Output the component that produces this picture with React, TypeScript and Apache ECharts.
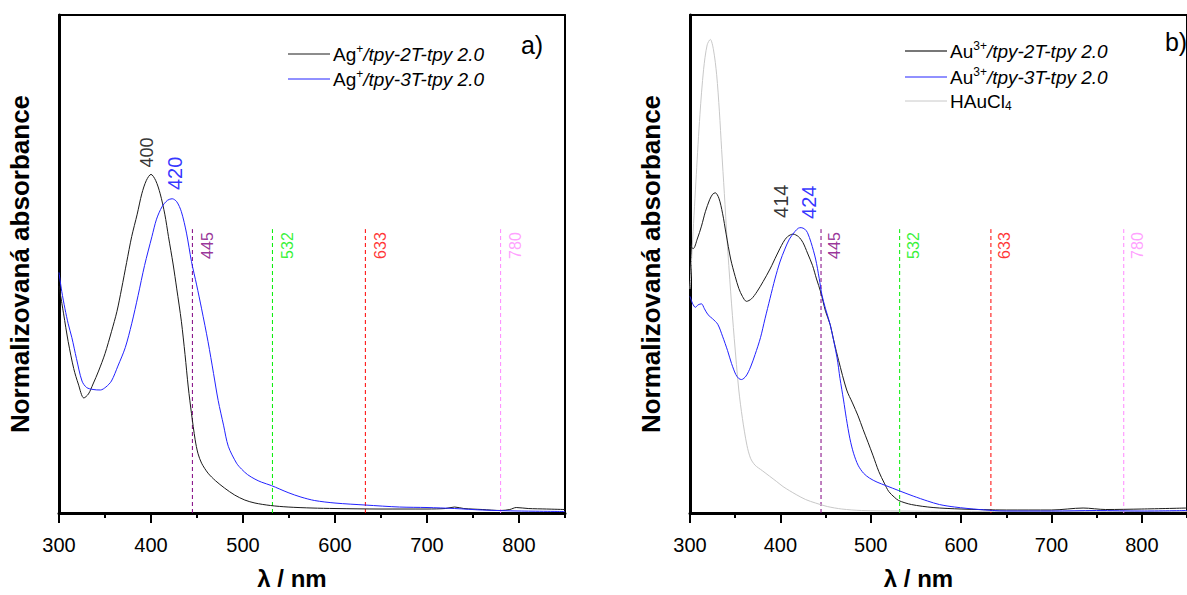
import React, { useEffect, useRef } from "react";
import * as echarts from "echarts";

const FONT = '"Liberation Sans", Arial, Helvetica, sans-serif';

// laser wavelengths marked by dashed lines
const laserNm = [445, 532, 633, 780];
const laserColors = ["#800080", "#00ee00", "#ff0000", "#ff88ff"];
const laserTop = 0.57;

// panel a) Ag+ complexes [nm, normalized absorbance]
const agTpy2T = [
  [300, 0.456], [305, 0.4], [310, 0.344], [316, 0.29], [321, 0.259], [327, 0.231], [332, 0.239],
  [337, 0.259], [343, 0.285], [350, 0.32], [357, 0.364], [363, 0.405], [368, 0.45], [373.5, 0.503],
  [379, 0.555], [385, 0.6], [390, 0.641], [395, 0.668], [400, 0.68], [405, 0.668], [410, 0.641],
  [415, 0.6], [419, 0.555], [424, 0.5], [428, 0.45], [433, 0.385], [437, 0.318], [440.5, 0.253],
  [444, 0.2], [448, 0.147], [451, 0.12], [455, 0.1], [462, 0.08], [470, 0.065], [480, 0.05],
  [491, 0.036], [502, 0.026], [513, 0.02], [530, 0.015], [549, 0.012], [575, 0.01], [600, 0.009],
  [650, 0.008], [700, 0.008], [720, 0.009], [730, 0.012], [740, 0.009], [760, 0.007], [780, 0.005],
  [790, 0.007], [797, 0.011], [810, 0.009], [830, 0.008], [850, 0.007],
];
const agTpy3T = [
  [300, 0.483], [303, 0.445], [306.5, 0.41], [310, 0.38], [314, 0.352], [319, 0.31], [325, 0.265],
  [330, 0.252], [337, 0.248], [345, 0.247], [351, 0.253], [357, 0.265], [364, 0.295], [372, 0.332],
  [379, 0.38], [386, 0.437], [393, 0.497], [401, 0.555], [406, 0.59], [412, 0.615], [418, 0.628],
  [423, 0.631], [428, 0.625], [433, 0.605], [438.6, 0.562], [444, 0.505], [449.6, 0.458], [455, 0.41],
  [462, 0.344], [468, 0.28], [473, 0.226], [479, 0.175], [484, 0.134], [493, 0.1], [498.5, 0.088],
  [505, 0.077], [513, 0.068], [520, 0.062], [531, 0.055], [549, 0.041], [563, 0.032], [578, 0.025],
  [600, 0.02], [633, 0.016], [670, 0.012], [700, 0.011], [730, 0.009], [760, 0.006], [800, 0.004],
  [850, 0.003],
];

// panel b) Au3+ complexes and HAuCl4
const auTpy2T = [
  [300, 0.536], [303.6, 0.531], [308, 0.55], [312.7, 0.576], [317, 0.605], [321.7, 0.629], [325, 0.64],
  [328, 0.643], [332, 0.632], [336, 0.602], [340, 0.56], [345, 0.51], [350, 0.475], [354, 0.451],
  [358, 0.435], [362.5, 0.425], [368, 0.43], [374, 0.444], [381, 0.465], [388.6, 0.49], [396, 0.518],
  [403, 0.543], [408, 0.555], [414, 0.56], [420, 0.555], [425, 0.543], [430, 0.522], [435.6, 0.497],
  [440, 0.47], [444.6, 0.444], [450, 0.405], [455, 0.379], [459.5, 0.343], [464.5, 0.306],
  [473.4, 0.247], [479.8, 0.221], [486, 0.195], [491.5, 0.168], [497, 0.142], [502.4, 0.116],
  [509, 0.083], [515, 0.06], [520, 0.043], [526, 0.032], [531, 0.025], [545, 0.017], [569, 0.011],
  [600, 0.008], [650, 0.006], [700, 0.006], [735, 0.01], [760, 0.007], [800, 0.008], [850, 0.01],
];
const auTpy3T = [
  [300, 0.435], [303, 0.42], [306, 0.413], [309, 0.418], [312.7, 0.42], [316, 0.41], [320, 0.398],
  [325, 0.39], [330.7, 0.379], [336, 0.355], [341.6, 0.326], [346, 0.3], [350.7, 0.278], [354, 0.27],
  [357, 0.268], [362, 0.275], [367, 0.293], [372, 0.318], [378, 0.352], [383, 0.39], [388.6, 0.431],
  [394, 0.47], [399.5, 0.504], [405, 0.53], [410, 0.55], [416, 0.565], [420, 0.572], [423, 0.573],
  [427, 0.57], [430, 0.563], [434, 0.543], [439, 0.51], [443, 0.471], [446, 0.438], [450, 0.41],
  [455, 0.379], [462.6, 0.313], [466, 0.27], [469.9, 0.227], [473, 0.19], [477, 0.149], [481, 0.12],
  [486, 0.096], [492, 0.08], [498.7, 0.07], [507, 0.062], [516.8, 0.055], [531, 0.045], [547, 0.034],
  [563, 0.024], [576, 0.017], [593, 0.012], [620, 0.007], [650, 0.004], [700, 0.004], [750, 0.005],
  [800, 0.004], [850, 0.005],
];
const hAuCl4 = [
  [300, 0.45], [303, 0.55], [307, 0.68], [311, 0.8], [315, 0.89], [319, 0.94], [322.5, 0.951],
  [326, 0.93], [329.5, 0.88], [332.5, 0.807], [335, 0.73], [338, 0.642], [341, 0.55], [345, 0.444],
  [349, 0.35], [354, 0.247], [358, 0.19], [363, 0.136], [367, 0.11], [372, 0.096], [380, 0.085],
  [388, 0.074], [396, 0.063], [403, 0.053], [410, 0.045], [417.5, 0.037], [428, 0.027], [439, 0.02],
  [452, 0.013], [468, 0.008], [490, 0.005], [532, 0.004], [600, 0.003], [700, 0.003], [850, 0.003],
];

// peak annotations: text and anchor in data coordinates
const peakTextsA = ["400", "420"];
const peakColorsA = ["#000000", "#0000ff"];
const peakSizesA = [18, 20];
const peakAnchorsA = [[395.6, 0.724], [426.6, 0.682]];
const peakTextsB = ["414", "424"];
const peakColorsB = ["#000000", "#0000ff"];
const peakSizesB = [20, 20];
const peakAnchorsB = [[400.3, 0.626], [431.7, 0.624]];

const laserLabelY = 0.537;

export default function App() {
  const ref = useRef<HTMLDivElement>(null);

  useEffect(() => {
    if (!ref.current) return;
    const chart = echarts.init(ref.current, undefined, { renderer: "svg" });

    const grids = [
      { left: 59, top: 15, width: 506, height: 507 },
      { left: 690, top: 15, width: 507, height: 507 },
    ];

    const xAxes: any[] = [];
    const yAxes: any[] = [];
    grids.forEach((_, g) => {
      xAxes.push({
        gridIndex: g, type: "value", min: 300, max: 850, interval: 100, position: "bottom",
        axisLine: { onZero: false, lineStyle: { color: "#000", width: 3 } },
        axisTick: { length: 10, lineStyle: { color: "#000", width: 2 } },
        axisLabel: { fontSize: 20, color: "#000", margin: 22, fontFamily: FONT, showMaxLabel: false },
        splitLine: { show: false },
        name: "λ / nm", nameLocation: "middle", nameGap: 53,
        nameTextStyle: { fontSize: 24, fontWeight: "bold", color: "#000", fontFamily: FONT, padding: [0, 40, 0, 0] },
      });
      xAxes.push({
        gridIndex: g, type: "value", min: 300, max: 850, interval: 50, position: "bottom",
        axisLine: { show: false, onZero: false },
        axisTick: { length: 5, lineStyle: { color: "#000", width: 2 } },
        axisLabel: { show: false }, splitLine: { show: false },
      });
      xAxes.push({
        gridIndex: g, type: "value", min: 300, max: 850, position: "top",
        axisLine: { onZero: false, lineStyle: { color: "#000", width: 2 } },
        axisTick: { show: false }, axisLabel: { show: false }, splitLine: { show: false },
      });
      yAxes.push({
        gridIndex: g, type: "value", min: 0, max: 1, position: "left",
        axisLine: { onZero: false, lineStyle: { color: "#000", width: 3 } },
        axisTick: { show: false }, axisLabel: { show: false }, splitLine: { show: false },
        name: "Normalizovaná absorbance", nameLocation: "middle", nameGap: 26,
        nameTextStyle: { fontSize: 26, fontWeight: "bold", color: "#000", fontFamily: FONT },
      });
      yAxes.push({
        gridIndex: g, type: "value", min: 0, max: 1, position: "right",
        axisLine: { onZero: false, lineStyle: { color: "#000", width: 2 } },
        axisTick: { show: false }, axisLabel: { show: false }, splitLine: { show: false },
      });
    });

    const series: any[] = [];
    const curve = (name: string, data: number[][], g: number, color: string, z = 3) => ({
      type: "line", name, data, xAxisIndex: g * 3, yAxisIndex: g * 2, symbol: "none",
      smooth: 0.3, silent: true, z,
      lineStyle: { color, width: 1 },
    });

    grids.forEach((_, g) => {
      laserNm.forEach((nm, i) => {
        series.push({
          type: "line", data: [[nm, 0], [nm, laserTop]], xAxisIndex: g * 3, yAxisIndex: g * 2,
          symbol: "none", silent: true, z: 2,
          lineStyle: { color: laserColors[i], width: 1, type: [4, 3] },
        });
      });
      series.push({
        type: "scatter", xAxisIndex: g * 3, yAxisIndex: g * 2, symbolSize: 1, silent: true, z: 5,
        itemStyle: { color: "rgba(0,0,0,0)" },
        data: laserNm.map((nm, i) => ({
          value: [nm + (g === 0 ? 16 : 15), laserLabelY],
          label: {
            show: true, position: "inside", rotate: 90, formatter: String(nm),
            color: laserColors[i], fontSize: 16, fontFamily: FONT,
          },
        })),
      });
    });

    series.push(curve("Ag+/tpy-2T-tpy 2.0", agTpy2T, 0, "#1a1a1a"));
    series.push(curve("Ag+/tpy-3T-tpy 2.0", agTpy3T, 0, "#2222ff"));
    series.push(curve("HAuCl4", hAuCl4, 1, "#c8c8c8"));
    series.push(curve("Au3+/tpy-2T-tpy 2.0", auTpy2T, 1, "#1a1a1a", 4));
    series.push(curve("Au3+/tpy-3T-tpy 2.0", auTpy3T, 1, "#2222ff", 4));

    const peakSeries = (texts: string[], colors: string[], sizes: number[], anchors: number[][], g: number) => ({
      type: "scatter", xAxisIndex: g * 3, yAxisIndex: g * 2, symbolSize: 1, silent: true, z: 5,
      itemStyle: { color: "rgba(0,0,0,0)" },
      data: texts.map((t, i) => ({
        value: anchors[i],
        label: {
          show: true, position: "inside", rotate: 90, formatter: t,
          color: colors[i], fontSize: sizes[i], fontFamily: FONT,
        },
      })),
    });
    series.push(peakSeries(peakTextsA, peakColorsA, peakSizesA, peakAnchorsA, 0));
    series.push(peakSeries(peakTextsB, peakColorsB, peakSizesB, peakAnchorsB, 1));

    const rich = {
      n: { fontSize: 19, fontFamily: FONT, color: "#000", lineHeight: 22 },
      s: { fontSize: 12, fontFamily: FONT, color: "#000", verticalAlign: "top", lineHeight: 22 },
      b: { fontSize: 12, fontFamily: FONT, color: "#000", verticalAlign: "bottom", lineHeight: 16 },
      i: { fontSize: 19, fontFamily: FONT, color: "#000", fontStyle: "italic", lineHeight: 22 },
    };
    const legendItem = (x: number, y: number, color: string, width: number, text: string) => [
      { type: "line", shape: { x1: x, y1: y, x2: x + 42, y2: y }, style: { stroke: color, lineWidth: width }, silent: true },
      { type: "text", x: x + 45, y, silent: true, style: { text, rich, fill: "#000", verticalAlign: "middle", align: "left", fontSize: 19, fontFamily: FONT } },
    ];

    const graphic: any[] = [
      ...legendItem(288, 54, "#1a1a1a", 1, "{n|Ag}{s|+}{i|/tpy-2T-tpy 2.0}"),
      ...legendItem(288, 79, "#2222ff", 1, "{n|Ag}{s|+}{i|/tpy-3T-tpy 2.0}"),
      ...legendItem(905, 51, "#777777", 2, "{n|Au}{s|3+}{i|/tpy-2T-tpy 2.0}"),
      ...legendItem(905, 77, "#2222ff", 1, "{n|Au}{s|3+}{i|/tpy-3T-tpy 2.0}"),
      ...legendItem(905, 101, "#c8c8c8", 1, "{n|HAuCl}{b|4}"),
      { type: "text", x: 532, y: 45, silent: true, style: { text: "a)", fill: "#000", fontSize: 25, fontFamily: FONT, align: "center", verticalAlign: "middle" } },
      { type: "text", x: 1176, y: 42, silent: true, style: { text: "b)", fill: "#000", fontSize: 25, fontFamily: FONT, align: "center", verticalAlign: "middle" } },
    ];

    chart.setOption({
      animation: false,
      backgroundColor: "#ffffff",
      textStyle: { fontFamily: FONT },
      grid: grids,
      xAxis: xAxes,
      yAxis: yAxes,
      series,
      graphic,
    });

    return () => chart.dispose();
  }, []);

  return (
    <div
      ref={ref}
      style={{ position: "absolute", left: 0, top: 0, width: 1187, height: 595, overflow: "hidden" }}
    />
  );
}
